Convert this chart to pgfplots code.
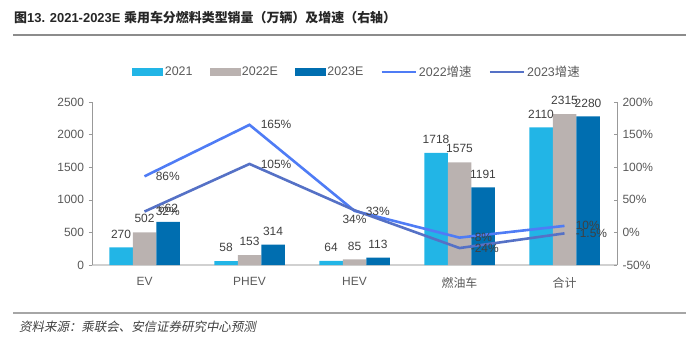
\documentclass[border=0pt]{standalone}
\usepackage{fontspec}
\setmainfont{Liberation Sans}
\newfontfamily\cjk{Noto Sans CJK SC}
\newfontfamily\cjkslant[FakeSlant=0.2]{Noto Sans CJK SC}
\usepackage{pgfplots}
\pgfplotsset{compat=1.18}
\definecolor{cA}{HTML}{22B5E6}
\definecolor{cB}{HTML}{BAB2B0}
\definecolor{cC}{HTML}{006EB0}
\definecolor{lA}{HTML}{4F7CF5}
\definecolor{lB}{HTML}{5571C6}
\definecolor{txt}{HTML}{404040}
\definecolor{tck}{HTML}{595959}
\begin{document}
\begin{tikzpicture}[x=1bp,y=1bp]
\path[use as bounding box] (0,0) rectangle (699,342);
\node[anchor=west, inner sep=0pt, font=\fontsize{13}{15}\selectfont\bfseries, text=black!85] at (14,324)
  {{\cjk 图}13. 2021-2023E {\cjk 乘用车分燃料类型销量（万辆）及增速（右轴）}};
\draw[line width=1.5bp, black!45] (13,307) -- (686,307);
\draw[line width=1.2bp, black!35] (13,29) -- (686,29);
\node[anchor=west, inner sep=0pt, font=\fontsize{12.5}{14}\selectfont, text=black!75] at (19,15)
  {\cjkslant 资料来源：乘联会、安信证券研究中心预测};

\begin{axis}[at={(92bp,77bp)}, anchor=south west, scale only axis,
  width=525bp, height=163bp,
  xmin=-0.5, xmax=4.5, ymin=0, ymax=2500,
  ytick={0,500,...,2500},
  xtick={0,...,4},
  xticklabels={EV,PHEV,HEV,{\cjk 燃油车},{\cjk 合计}},
  major x tick style={draw=none},
  extra x ticks={0.5,1.5,2.5,3.5},
  extra x tick labels={},
  extra x tick style={major tick length=4bp, tick style={draw=black!40, line width=0.6bp}},
  axis x line*=bottom, axis y line*=left,
  x axis line style={draw=black!18, line width=1.5bp, -},
  y axis line style={draw=black!40, line width=0.6bp, -},
  y tick style={draw=black!40, line width=0.6bp},
  tick align=outside, major tick length=3.5bp,
  ticklabel style={font=\fontsize{12}{14}\selectfont, text=tck},
  yticklabel style={xshift=-1bp},
  xticklabel style={yshift=-5bp},
  /pgf/number format/assume math mode=true,
  /pgf/number format/1000 sep={},
  scaled y ticks=false,
  ybar=0pt, bar width=23.5bp,
  nodes near coords,
  every node near coord/.append style={font=\fontsize{12}{14}\selectfont, text=txt, inner sep=1.5bp, yshift=7.5bp,
    /pgf/number format/1000 sep={}},
  clip=false,
]
\addplot[fill=cA, draw=none] coordinates {(0,270) (1,58) (2,64) (3,1718) (4,2110)};
\addplot[fill=cB, draw=none] coordinates {(0,502) (1,153) (2,85) (3,1575) (4,2315)};
\addplot[fill=cC, draw=none] coordinates {(0,662) (1,314) (2,113) (3,1191) (4,2280)};
\end{axis}

\begin{axis}[at={(92bp,77bp)}, anchor=south west, scale only axis,
  width=525bp, height=163bp,
  xmin=-0.5, xmax=4.5, ymin=-50, ymax=200,
  ytick={-50,0,...,200},
  yticklabel={\pgfmathprintnumber{\tick}\%},
  axis x line=none, axis y line*=right,
  y axis line style={draw=black!40, line width=0.6bp, -},
  y tick style={draw=black!40, line width=0.6bp},
  tick align=inside, major tick length=3.5bp,
  ticklabel style={font=\fontsize{12}{14}\selectfont, text=tck},
  yticklabel style={xshift=2bp},
  /pgf/number format/assume math mode=true,
  clip=false,
  legend columns=5,
  legend style={at={(0.505,1)}, anchor=south, yshift=20bp, draw=none, fill=none,
    font=\fontsize{12.5}{14}\selectfont, text=tck,
    /tikz/every even column/.append style={column sep=15bp},
    nodes={inner sep=2bp}},
  legend cell align=left,
  point meta=explicit symbolic,
  nodes near coords,
  every node near coord/.append style={font=\fontsize{12}{14}\selectfont, text=txt, anchor=west, xshift=9bp, inner sep=1bp},
]
\addlegendimage{legend image code/.code={\fill[cA] (0bp,-3.5bp) rectangle (30bp,3.5bp);}}
\addlegendentry{2021}
\addlegendimage{legend image code/.code={\fill[cB] (0bp,-3.5bp) rectangle (30bp,3.5bp);}}
\addlegendentry{2022E}
\addlegendimage{legend image code/.code={\fill[cC] (0bp,-3.5bp) rectangle (30bp,3.5bp);}}
\addlegendentry{2023E}
\addplot[lA, line width=2.6bp, mark=none, legend image code/.code={\draw[lA, line width=2.6bp] (0bp,0bp) -- (34bp,0bp);}]
  coordinates {(0,86)[86\%] (1,165)[165\%] (2,33)[33\%] (3,-8)[-8\%] (4,10)[10\%]};
\addlegendentry{2022{\cjk 增速}}
\addplot[lB, line width=2.6bp, mark=none, legend image code/.code={\draw[lB, line width=2.6bp] (0bp,0bp) -- (34bp,0bp);}]
  coordinates {(0,32)[32\%] (1,105)[105\%] (2,34)[] (3,-24)[-24\%] (4,-1.5)[-1.5\%]};
\addlegendentry{2023{\cjk 增速}}
\addplot[draw=none, mark=none, forget plot, nodes near coords,
  every node near coord/.append style={anchor=north, xshift=-9bp, yshift=-4bp}]
  coordinates {(2,34)[34\%]};
\end{axis}
\end{tikzpicture}
\end{document}
